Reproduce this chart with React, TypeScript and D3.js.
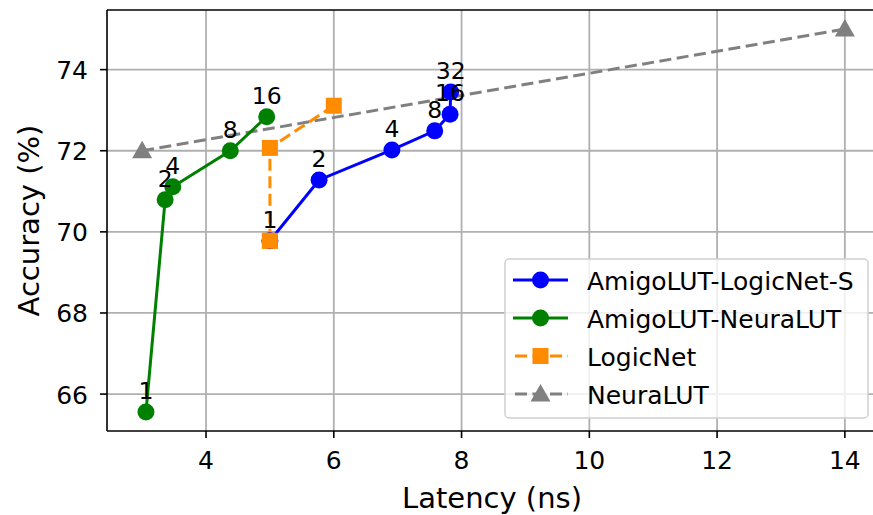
import React from "react";
import * as d3 from "d3";

const xTicks = [4, 6, 8, 10, 12, 14];
const yTicks = [66, 68, 70, 72, 74];

const blueX = [5.0, 5.77, 6.91, 7.58, 7.82, 7.83];
const blueY = [69.78, 71.28, 72.02, 72.49, 72.9, 73.45];
const blueLabels = ["1", "2", "4", "8", "16", "32"];

const greenX = [3.06, 3.36, 3.48, 4.38, 4.95];
const greenY = [65.56, 70.79, 71.11, 72.0, 72.84];
const greenLabels = ["1", "2", "4", "8", "16"];

const logicX = [5.0, 5.0, 6.0];
const logicY = [69.78, 72.07, 73.11];

const neuraX = [3.0, 14.0];
const neuraY = [72.0, 75.0];

const legendNames = ["AmigoLUT-LogicNet-S", "AmigoLUT-NeuraLUT", "LogicNet", "NeuraLUT"];

const W = 873, H = 515;
const L = 107, T = 10, B = 431, R = 880;
const FONT = "DejaVu Sans, sans-serif";

export default function App() {
  const x = d3.scaleLinear().domain([2.45, 14.55]).range([L, R]);
  const y = d3.scaleLinear().domain([65.09, 75.47]).range([B, T]);
  const line = (xs: number[], ys: number[]) =>
    d3.line<number>().x((_, i) => x(xs[i])).y((_, i) => y(ys[i]))(xs) || "";

  const blue = "#0000ff", green = "#008000", orange = "#ff8c00", gray = "#808080";
  const lw = 3;
  const dash = "12,5.5";

  const circle = (cx: number, cy: number, c: string, k: string) => (
    <circle key={k} cx={cx} cy={cy} r={8.5} fill={c} />
  );
  const square = (cx: number, cy: number, c: string, k: string) => (
    <rect key={k} x={cx - 8} y={cy - 8} width={16} height={16} fill={c} />
  );
  const tri = (cx: number, cy: number, c: string, k: string) => (
    <path key={k} d={`M${cx},${cy - 10} L${cx + 10},${cy + 7.5} L${cx - 10},${cy + 7.5} Z`} fill={c} />
  );

  const legX = 505, legY = 259, legW = 363, legH = 159;
  const rows = [280, 318, 356, 394];

  return (
    <svg width={W} height={H} style={{ position: "absolute", left: 0, top: 0, background: "#fff" }}
      fontFamily={FONT}>
      <defs>
        <clipPath id="pc"><rect x={L} y={T} width={R - L} height={B - T} /></clipPath>
      </defs>
      <rect x={0} y={0} width={W} height={H} fill="#fff" />
      {/* grid */}
      {xTicks.map(t => (
        <line key={"gx" + t} x1={x(t)} x2={x(t)} y1={T} y2={B} stroke="#b0b0b0" strokeWidth={1.8} />
      ))}
      {yTicks.map(t => (
        <line key={"gy" + t} x1={L} x2={R} y1={y(t)} y2={y(t)} stroke="#b0b0b0" strokeWidth={1.8} />
      ))}
      <g clipPath="url(#pc)">
        {/* NeuraLUT */}
        <path d={line(neuraX, neuraY)} fill="none" stroke={gray} strokeWidth={lw} strokeDasharray={dash} />
        {neuraX.map((v, i) => tri(x(v), y(neuraY[i]), gray, "n" + i))}
        {/* LogicNet */}
        <path d={line(logicX, logicY)} fill="none" stroke={orange} strokeWidth={lw} strokeDasharray={dash} />
        {logicX.map((v, i) => square(x(v), y(logicY[i]), orange, "l" + i))}
        {/* Green */}
        <path d={line(greenX, greenY)} fill="none" stroke={green} strokeWidth={lw} />
        {greenX.map((v, i) => circle(x(v), y(greenY[i]), green, "g" + i))}
        {/* Blue */}
        <path d={line(blueX, blueY)} fill="none" stroke={blue} strokeWidth={lw} />
        {blueX.map((v, i) => circle(x(v), y(blueY[i]), blue, "b" + i))}
        {/* orange square sits over the first blue point */}
        {square(x(logicX[0]), y(logicY[0]), orange, "l0top")}
      </g>
      {/* point labels */}
      {blueX.map((v, i) => (
        <text key={"bl" + i} x={x(v)} y={y(blueY[i]) - 13} textAnchor="middle" fontSize={23.5} fill="#000">
          {blueLabels[i]}
        </text>
      ))}
      {greenX.map((v, i) => (
        <text key={"gl" + i} x={x(v)} y={y(greenY[i]) - 13} textAnchor="middle" fontSize={23.5} fill="#000">
          {greenLabels[i]}
        </text>
      ))}
      {/* spines */}
      <line x1={L} x2={L} y1={T} y2={B} stroke="#000" strokeWidth={1.6} />
      <line x1={L} x2={R} y1={B} y2={B} stroke="#000" strokeWidth={1.6} />
      <line x1={L} x2={R} y1={T} y2={T} stroke="#000" strokeWidth={1.6} />
      <line x1={R} x2={R} y1={T} y2={B} stroke="#000" strokeWidth={1.6} />
      {/* ticks */}
      {xTicks.map(t => (
        <g key={"xt" + t}>
          <line x1={x(t)} x2={x(t)} y1={B} y2={B + 7} stroke="#000" strokeWidth={1.6} />
          <text x={x(t)} y={B + 38} textAnchor="middle" fontSize={25} fill="#000">{t}</text>
        </g>
      ))}
      {yTicks.map(t => (
        <g key={"yt" + t}>
          <line x1={L - 7} x2={L} y1={y(t)} y2={y(t)} stroke="#000" strokeWidth={1.6} />
          <text x={L - 19} y={y(t) + 9.5} textAnchor="end" fontSize={25} fill="#000">{t}</text>
        </g>
      ))}
      {/* axis labels */}
      <text x={492} y={508} textAnchor="middle" fontSize={29} fill="#000">Latency (ns)</text>
      <text transform={`translate(39,${(T + B) / 2}) rotate(-90)`} textAnchor="middle" fontSize={29} fill="#000">
        Accuracy (%)
      </text>
      {/* legend */}
      <rect x={legX} y={legY} width={legW} height={legH} rx={4} fill="#fff" fillOpacity={0.8}
        stroke="#d0d0d0" strokeWidth={1.5} />
      {[
        { c: blue, dash: false, m: "c" },
        { c: green, dash: false, m: "c" },
        { c: orange, dash: true, m: "s" },
        { c: gray, dash: true, m: "t" },
      ].map((s, i) => {
        const yy = rows[i];
        return (
          <g key={"lg" + i}>
            <line x1={513} x2={568} y1={yy} y2={yy} stroke={s.c} strokeWidth={lw}
              strokeDasharray={s.dash ? dash : undefined} strokeDashoffset={s.dash ? -2 : 0} />
            {s.m === "c" ? circle(540.5, yy, s.c, "lm" + i) : s.m === "s" ? square(540.5, yy, s.c, "lm" + i) : tri(540.5, yy, s.c, "lm" + i)}
            <text x={587} y={yy + 9.5} fontSize={25} fill="#000">{legendNames[i]}</text>
          </g>
        );
      })}
    </svg>
  );
}
